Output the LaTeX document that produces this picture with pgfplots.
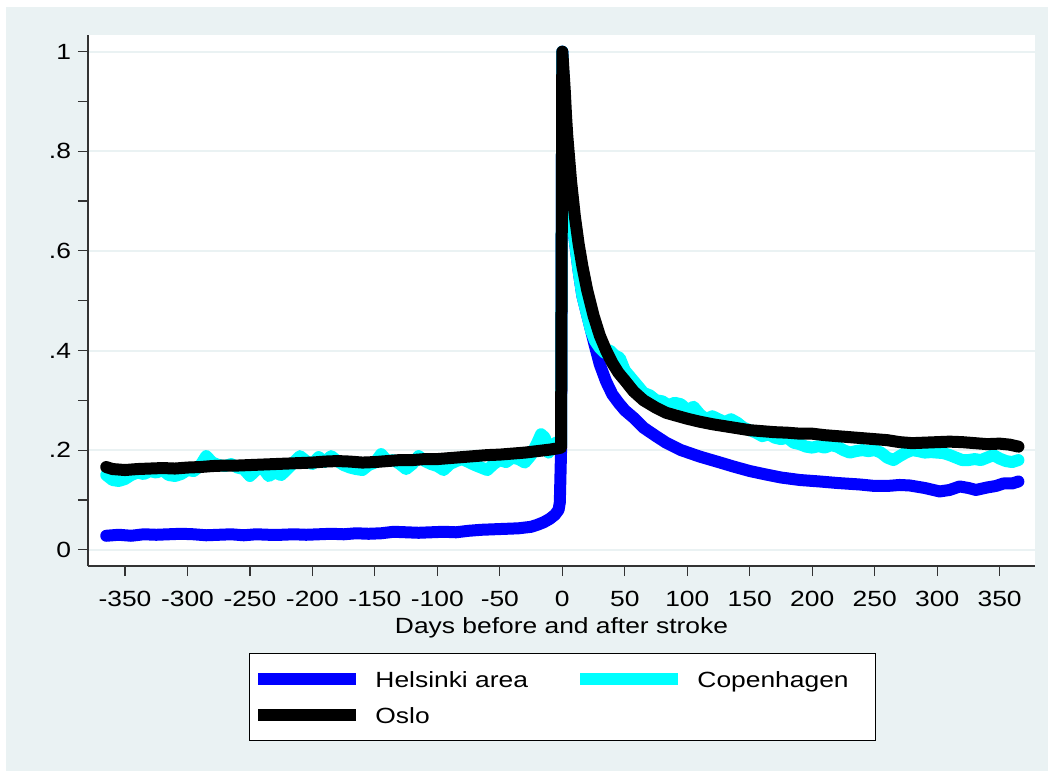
\documentclass[border=0pt]{standalone}
\usepackage{fontspec}
\setmainfont[FakeStretch=1.2]{Liberation Sans}
\usepackage{pgfplots}
\pgfplotsset{compat=1.18}
\usepackage{pgfplotstable}

\definecolor{bgc}{RGB}{234,242,243}
\definecolor{helblue}{RGB}{0,0,255}
\definecolor{cphcyan}{RGB}{0,255,255}

% Helsinki area
\pgfplotstableread{
d v
-365 0.028
-355 0.030
-345 0.028
-335 0.031
-325 0.030
-315 0.031
-305 0.032
-295 0.031
-285 0.029
-275 0.030
-265 0.031
-255 0.029
-245 0.031
-235 0.030
-225 0.030
-215 0.031
-205 0.030
-195 0.031
-185 0.032
-175 0.031
-165 0.033
-155 0.032
-145 0.033
-135 0.036
-125 0.035
-115 0.034
-105 0.035
-95 0.036
-85 0.035
-75 0.038
-65 0.040
-55 0.041
-45 0.042
-35 0.043
-25 0.046
-20 0.050
-15 0.055
-10 0.062
-6 0.070
-3 0.080
-2 0.095
-1 0.200
0 1.000
1 0.930
2 0.870
3 0.810
5 0.740
7 0.680
10 0.620
13 0.560
16 0.510
20 0.470
23 0.440
26 0.410
30 0.372
35 0.338
40 0.312
45 0.295
50 0.280
57 0.265
65 0.245
75 0.228
83 0.215
95 0.200
110 0.187
125 0.176
137 0.167
150 0.158
163 0.151
175 0.145
190 0.140
206 0.137
220 0.134
238 0.131
250 0.128
260 0.128
270 0.130
278 0.129
290 0.124
302 0.117
310 0.120
318 0.127
325 0.124
331 0.120
340 0.125
347 0.128
353 0.133
360 0.133
365 0.137
}\helsinki

% Copenhagen
\pgfplotstableread{
d v
-365 0.150
-360 0.140
-355 0.138
-350 0.142
-345 0.150
-340 0.155
-335 0.152
-330 0.158
-325 0.155
-320 0.160
-315 0.150
-310 0.148
-305 0.152
-300 0.160
-295 0.158
-290 0.168
-285 0.188
-280 0.175
-275 0.170
-270 0.168
-265 0.172
-260 0.165
-255 0.162
-250 0.148
-245 0.160
-240 0.165
-235 0.148
-230 0.155
-225 0.150
-220 0.162
-215 0.175
-210 0.188
-205 0.178
-200 0.172
-195 0.186
-190 0.176
-185 0.188
-180 0.178
-175 0.170
-170 0.165
-165 0.162
-160 0.160
-155 0.170
-150 0.175
-145 0.192
-140 0.178
-135 0.180
-130 0.172
-125 0.162
-120 0.172
-115 0.188
-110 0.178
-105 0.172
-100 0.168
-95 0.160
-90 0.172
-85 0.178
-80 0.182
-75 0.176
-70 0.170
-65 0.165
-60 0.160
-55 0.172
-50 0.180
-45 0.176
-40 0.185
-35 0.182
-30 0.175
-25 0.190
-20 0.215
-17 0.232
-14 0.225
-11 0.195
-8 0.210
-5 0.215
-3 0.205
-1 0.210
0 1.000
1 0.930
2 0.870
3 0.810
5 0.740
7 0.680
10 0.620
13 0.560
16 0.510
20 0.470
23 0.440
26 0.420
30 0.405
34 0.395
38 0.400
42 0.390
46 0.385
50 0.360
55 0.345
60 0.330
65 0.315
70 0.310
75 0.300
80 0.298
85 0.290
90 0.295
95 0.292
100 0.280
105 0.287
110 0.272
115 0.262
120 0.268
125 0.262
130 0.256
135 0.262
140 0.255
145 0.245
150 0.240
155 0.235
160 0.228
165 0.232
170 0.225
175 0.222
180 0.225
185 0.215
190 0.212
195 0.207
200 0.205
205 0.208
210 0.205
215 0.210
220 0.207
225 0.200
230 0.195
235 0.198
240 0.200
245 0.198
250 0.200
255 0.195
260 0.185
265 0.180
270 0.188
275 0.195
280 0.200
285 0.198
290 0.195
295 0.196
300 0.195
305 0.194
310 0.190
315 0.185
320 0.180
325 0.180
330 0.182
335 0.180
340 0.185
345 0.190
350 0.183
355 0.178
360 0.176
365 0.180
}\copenhagen

% Oslo
\pgfplotstableread{
d v
-365 0.166
-360 0.162
-350 0.160
-340 0.162
-330 0.163
-320 0.164
-310 0.163
-300 0.165
-290 0.166
-280 0.168
-270 0.169
-260 0.169
-250 0.170
-240 0.171
-230 0.172
-220 0.173
-210 0.174
-200 0.175
-190 0.177
-180 0.178
-170 0.177
-160 0.175
-150 0.176
-140 0.178
-130 0.180
-120 0.180
-110 0.182
-100 0.182
-90 0.184
-80 0.186
-70 0.188
-60 0.190
-50 0.191
-40 0.193
-30 0.195
-20 0.198
-10 0.201
-5 0.203
-1 0.205
0 1.000
1 0.960
2 0.920
3 0.870
4 0.830
5 0.800
7 0.740
10 0.670
13 0.615
16 0.570
20 0.520
25 0.470
30 0.430
35 0.400
40 0.375
45 0.355
50 0.340
57 0.318
65 0.300
75 0.285
83 0.275
90 0.270
100 0.263
110 0.257
120 0.252
130 0.248
140 0.244
150 0.240
160 0.238
170 0.236
180 0.235
190 0.233
200 0.233
210 0.230
220 0.228
230 0.226
240 0.224
250 0.222
260 0.220
270 0.216
280 0.214
290 0.215
300 0.216
310 0.217
320 0.216
330 0.214
340 0.212
350 0.213
358 0.211
365 0.207
}\oslo

\begin{document}
\begin{tikzpicture}
\useasboundingbox (-44pt,-102.5pt) rectangle (480pt,283pt);
\fill[white] (-44pt,-102.5pt) rectangle (480pt,283pt);
\fill[bgc] (-41pt,-102.5pt) rectangle (480pt,279.5pt);
\begin{axis}[
  at={(0pt,0pt)}, anchor=south west,
  scale only axis, width=473.5pt, height=265.5pt,
  xmin=-379.6, xmax=378.3, ymin=-0.0327, ymax=1.0335,
  axis background/.style={fill=white},
  axis x line*=bottom, axis y line*=left,
  axis line style={line width=0.6pt, color=black!80},
  tick style={line width=0.6pt, color=black!80},
  tick align=outside,
  major tick length=5pt, minor tick length=5pt,
  xtick={-350,-300,-250,-200,-150,-100,-50,0,50,100,150,200,250,300,350},
  xticklabels={-350,-300,-250,-200,-150,-100,-50,0,50,100,150,200,250,300,350},
  ytick={0,0.2,0.4,0.6,0.8,1},
  yticklabels={0,.2,.4,.6,.8,1},
  minor ytick={0.1,0.3,0.5,0.7,0.9},
  ymajorgrids,
  major grid style={line width=1pt, color=bgc},
  ticklabel style={font=\fontsize{11}{13}\selectfont},
  xticklabel style={yshift=-4pt},
  xlabel={Days before and after stroke},
  xlabel style={font=\fontsize{11}{13}\selectfont, at={(axis description cs:0.5,0)}, anchor=center, yshift=-31pt},
  legend columns=2,
  legend style={at={(axis description cs:0.501,-0.1638)}, anchor=north,
    draw=black, line width=0.5pt, fill=white, font=\fontsize{11}{13}\selectfont,
    inner xsep=1.5pt, inner ysep=6pt, row sep=4.5pt,
    nodes={inner sep=0pt, text height=11pt, text depth=2.5pt}},
  legend image code/.code={
    \draw[line width=6pt, line cap=butt] (0pt,0pt) -- (49pt,0pt);
    \path (55.5pt,0pt);
  },
  every axis plot/.append style={line width=6pt, line join=round, line cap=round},
]
\addplot[helblue] table[x=d, y=v] {\helsinki};
\addlegendentry{\makebox[99.5pt][l]{Helsinki area}}
\addplot[cphcyan] table[x=d, y=v] {\copenhagen};
\addlegendentry{\makebox[87.5pt][l]{Copenhagen}}
\addplot[black] table[x=d, y=v] {\oslo};
\addlegendentry{\makebox[99.5pt][l]{Oslo}}
\end{axis}
\end{tikzpicture}
\end{document}
